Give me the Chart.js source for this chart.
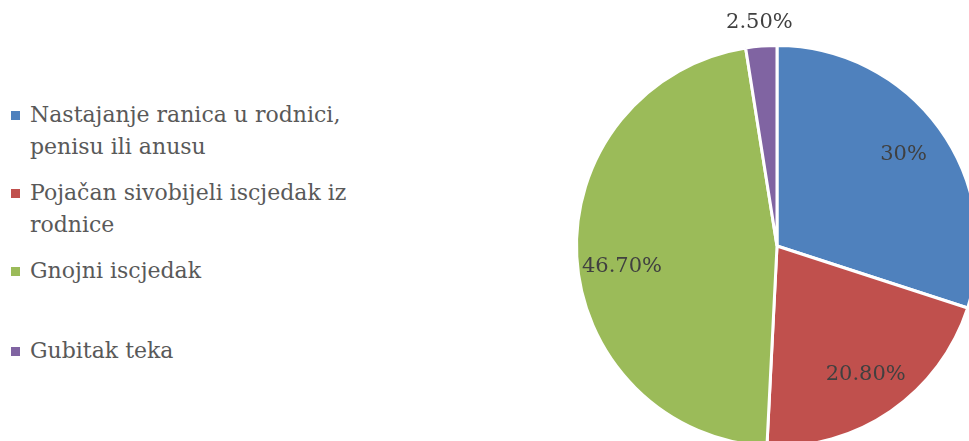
<!DOCTYPE html>
<html>
<head>
<meta charset="utf-8">
<script src="https://cdn.jsdelivr.net/npm/chart.js@4"></script>
<style>
  html, body { margin: 0; padding: 0; width: 969px; height: 441px; overflow: hidden; background: #fff; }
  #wrap { position: absolute; left: 525px; top: -6px; width: 504px; height: 504px; }
  #legend { position: absolute; left: 0; top: 0; font-family: "DejaVu Serif", serif; font-size: 22px; color: #595959; }
  .item { position: absolute; left: 11px; width: 345px; display: flex; line-height: 32px; }
  .box { width: 9px; height: 9px; margin-top: 12px; margin-right: 10px; flex: none; }
</style>
</head>
<body>
<div id="legend"></div>
<div id="wrap"><canvas id="pieChart"></canvas></div>
<script>
const categories = [
    'Nastajanje ranica u rodnici, penisu ili anusu',
    'Pojačan sivobijeli iscjedak iz rodnice',
    'Gnojni iscjedak',
    'Gubitak teka'
];
const values = [30, 20.8, 46.7, 2.5];
const valueLabels = ['30%', '20.80%', '46.70%', '2.50%'];
const colors = ['#4F81BD', '#C0504D', '#9BBB59', '#8064A2'];

// legend on the left, built from the same arrays
const legendTops = [99, 177, 255, 335];
const legend = document.getElementById('legend');
categories.forEach(function(name, i) {
    const item = document.createElement('div');
    item.className = 'item';
    item.style.top = legendTops[i] + 'px';
    const box = document.createElement('span');
    box.className = 'box';
    box.style.background = colors[i];
    const txt = document.createElement('span');
    txt.textContent = name;
    item.appendChild(box);
    item.appendChild(txt);
    legend.appendChild(item);
});

const labelPlugin = {
    id: 'sliceLabels',
    afterDatasetsDraw: function(chart) {
        const ctx = chart.ctx;
        const arcs = chart.getDatasetMeta(0).data;
        ctx.save();
        ctx.font = '21px "DejaVu Serif", serif';
        ctx.fillStyle = '#404040';
        ctx.textAlign = 'center';
        ctx.textBaseline = 'middle';
        arcs.forEach(function(arc, i) {
            const mid = (arc.startAngle + arc.endAngle) / 2;
            let r = arc.outerRadius * 0.78;
            let a = mid;
            if (values[i] < 5) r = arc.outerRadius * 1.12;
            if (values[i] > 40) { a = mid - 0.08; }
            ctx.fillText(valueLabels[i], arc.x + Math.cos(a) * r, arc.y + Math.sin(a) * r);
        });
        ctx.restore();
    }
};

const config = {
    type: 'pie',
    data: {
        labels: categories,
        datasets: [{
            data: values,
            backgroundColor: colors,
            borderColor: '#ffffff',
            borderWidth: 3
        }]
    },
    options: {
        responsive: true,
        maintainAspectRatio: false,
        animation: false,
        layout: { padding: 50 },
        plugins: {
            legend: { display: false },
            tooltip: { enabled: false }
        }
    },
    plugins: [labelPlugin]
};

new Chart(document.getElementById('pieChart'), config);
</script>
</body>
</html>
